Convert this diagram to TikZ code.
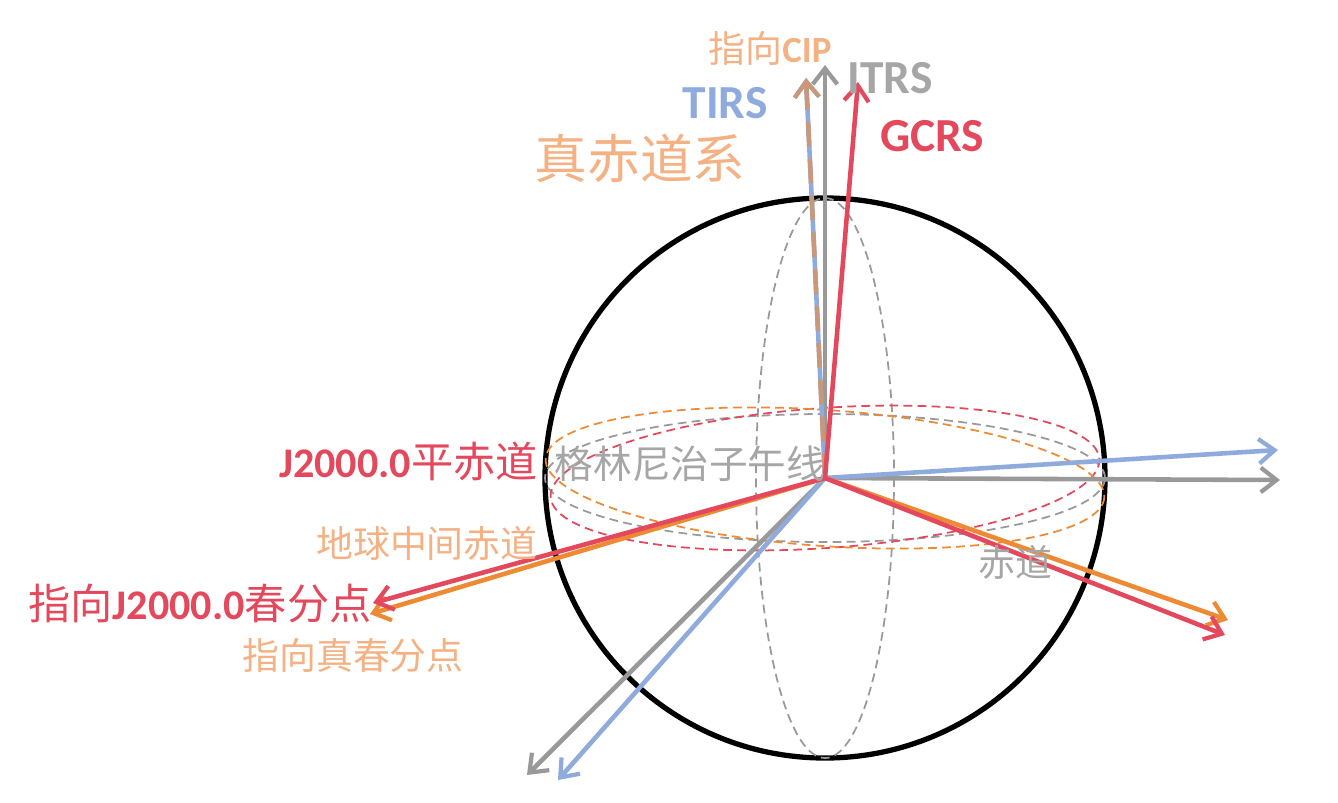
\documentclass[tikz,border=0pt]{standalone}
\usepackage{fontspec}
\setmainfont{Carlito}
\newfontfamily\cjk{Noto Sans CJK SC}
\usetikzlibrary{arrows.meta,positioning}
\definecolor{myred}{HTML}{E4485C}
\definecolor{myorange}{HTML}{EE8A33}
\definecolor{mylight}{HTML}{F4B183}
\definecolor{mygray}{HTML}{999999}
\definecolor{mytext}{HTML}{A6A6A6}
\definecolor{myblue}{HTML}{8FAADC}
\definecolor{mybrown}{HTML}{C9977A}
\tikzset{
        axis/.style={-{Straight Barb[length=9pt,width=14pt,line width=2.4pt]}, line width=2.6pt},
        ring/.style={dashed, line width=1pt, dash pattern=on 5pt off 3pt},
        lbl/.style={inner sep=0pt, font=\fontsize{21}{21}\selectfont},
        big/.style={inner sep=0pt, font=\bfseries\fontsize{27}{27}\selectfont},
 }
\begin{document}
\begin{tikzpicture}[x=0.02cm, y=-0.02cm]
    \useasboundingbox (0,0) rectangle (1338,802);
    \coordinate (O) at (825,478);

    % sphere and dashed circles
    \draw[line width=3pt] (O) circle [radius=280];
    \draw[ring, mygray] (O) ellipse [x radius=69, y radius=280];
    \draw[ring, mygray] (O) ellipse [x radius=280, y radius=64];
    \draw[ring, myred, rotate around={4:(O)}] (O) ellipse [x radius=275, y radius=70];
    \draw[ring, myorange, rotate around={-4:(O)}] (O) ellipse [x radius=280, y radius=68];

    % axis ends
    \coordinate (itrsz) at (825,65);
    \coordinate (itrsx) at (1280,480);
    \coordinate (itrsy) at (527,775);
    \coordinate (tirsz) at (806,78);
    \coordinate (tirsx) at (1278,450);
    \coordinate (tirsy) at (558,780);
    \coordinate (gcrsz) at (858,82);
    \coordinate (gcrsx) at (373,603);
    \coordinate (gcrsy) at (1225,635);
    \coordinate (truex) at (370,614);
    \coordinate (truey) at (1228,620);

    \draw[axis, mygray] (O) -- (itrsz);
    \draw[axis, mygray] (O) -- (itrsx);
    \draw[axis, mygray] (O) -- (itrsy);
    \draw[axis, myblue] (O) -- (tirsx);
    \draw[axis, myblue] (O) -- (tirsy);
    \draw[axis, myblue] (O) -- (tirsz);
    \draw[axis, mybrown, dash pattern=on 14pt off 7pt] (O) -- (tirsz);
    \draw[axis, myorange] (O) -- (truex);
    \draw[axis, myorange] (O) -- (truey);
    \draw[axis, myred] (O) -- (gcrsz);
    \draw[axis, myred] (O) -- (gcrsx);
    \draw[axis, myred] (O) -- (gcrsy);

    % labels
    \node[lbl, mylight] (cip) at (770,48) {{\cjk 指向}\textbf{CIP}};
    \node[big, mytext] (itrs) at (890,78) {ITRS};
    \node[big, myblue] (tirs) at (725,103) {TIRS};
    \node[big, myred] (gcrs) at (932,136) {GCRS};
    \node[inner sep=0pt, mylight, font=\cjk\fontsize{30}{30}\selectfont] (truesys) at (640,158) {真赤道系};
    \node[lbl, myred, anchor=east, font=\fontsize{24}{24}\selectfont] (j2000) at (538,461) {\textbf{J2000.0}{\cjk 平赤道}};
    \node[lbl, mytext, font=\cjk\fontsize{22}{22}\selectfont] (green) at (690,464) {格林尼治子午线};
    \node[lbl, mylight, anchor=east, font=\cjk\fontsize{21}{21}\selectfont] (cirs) at (538,543) {地球中间赤道};
    \node[lbl, myred, font=\fontsize{24}{24}\selectfont] (vernal) at (200,603) {{\cjk 指向}\textbf{J2000.0}{\cjk 春分点}};
    \node[lbl, mylight, font=\cjk\fontsize{21}{21}\selectfont] (truevernal) at (353,655) {指向真春分点};
    \node[lbl, mytext, font=\cjk\fontsize{21}{21}\selectfont] (equator) at (1015,562) {赤道};
\end{tikzpicture}
\end{document}
